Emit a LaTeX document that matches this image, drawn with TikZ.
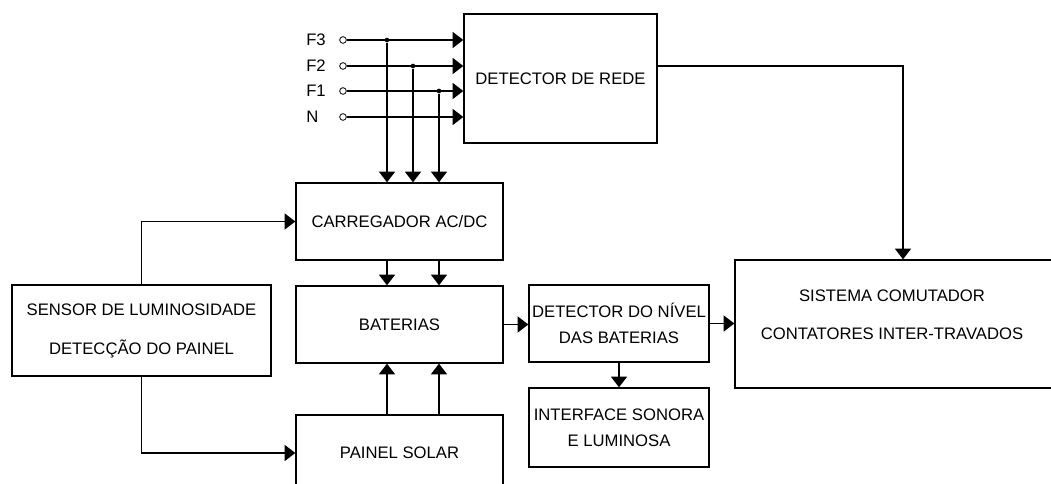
\documentclass[tikz,border=0pt]{standalone}
\usepackage{fontspec}
\setmainfont{Liberation Sans}
\usetikzlibrary{arrows.meta,positioning}

\begin{document}
\begin{tikzpicture}[x=0.75pt,y=-0.75pt,
  every node/.style={font=\fontsize{12.5}{15}\selectfont,align=center},
  bloco/.style={draw, line width=1pt, inner sep=0pt},
  seta/.style={line width=1pt, -{Triangle[length=8pt,width=12pt]}},
  borne/.style={draw, circle, line width=0.6pt, inner sep=0pt, minimum size=5pt},
  juncao/.style={fill, circle, inner sep=0pt, minimum size=3.5pt},
  duaslinhas/.style={font=\fontsize{12.5}{19.2}\selectfont}]
  \useasboundingbox (0,0) rectangle (1051,484);

  % blocos
  \node[bloco, minimum width=144.75pt, minimum height=96.75pt] (rede) at (560.5,78.5) {DETECTOR DE REDE};
  \node[bloco, minimum width=155.25pt, minimum height=57.75pt] (carr) at (399.5,221.5) {CARREGADOR AC/DC};
  \node[bloco, minimum width=155.25pt, minimum height=57.75pt] (bat) at (399.5,324.5) {BATERIAS};
  \node[bloco, minimum width=155.25pt, minimum height=57pt] (pan) at (399.5,453) {PAINEL SOLAR};
  \node[bloco, minimum width=194.25pt, minimum height=68.25pt, font=\fontsize{12.5}{29.25}\selectfont] (sens) at (141.5,330.5) {SENSOR DE LUMINOSIDADE\\DETECÇÃO DO PAINEL};
  \node[bloco, duaslinhas, minimum width=135pt, minimum height=57.75pt] (niv) at (619,323.5) {DETECTOR DO NÍVEL\\DAS BATERIAS};
  \node[bloco, duaslinhas, minimum width=135pt, minimum height=59.25pt] (intf) at (619,427.5) {INTERFACE SONORA\\E LUMINOSA};
  \node[bloco, minimum width=252pt, minimum height=96pt] (sist) at (903,324) {};
  \node[font=\fontsize{12.5}{28.5}\selectfont] (sisttxt) at (892,315) {SISTEMA COMUTADOR\\CONTATORES INTER-TRAVADOS};

  % entradas da rede
  \foreach \n/\y in {F3/40,F2/66,F1/91,N/117} {
    \node[borne] (t\n) at (343,\y) {};
    \node[anchor=west, inner sep=0pt] (l\n) at (306,\y) {\n};
    \draw[seta] (t\n) -- (t\n -| rede.west);
  }
  \foreach \n/\x/\y in {F3/387/40,F2/413/66,F1/439/91} {
    \node[juncao] (j\n) at (\x,\y) {};
    \draw[seta] (j\n) -- (j\n |- carr.north);
  }

  % ligacoes
  \foreach \n in {F3,F1} {
    \draw[seta] (j\n |- carr.south) -- (j\n |- bat.north);
    \draw[seta] (j\n |- pan.north) -- (j\n |- bat.south);
  }
  \draw[seta] (sens.north) |- (carr.west);
  \draw[seta] (sens.south) |- (pan.west);
  \draw[seta] (bat.east) -- (bat.east -| niv.west);
  \draw[seta] (niv.east) -- (niv.east -| sist.west);
  \draw[seta] (niv.south) -- (intf.north);
  \draw[seta] (rede.east |- tF2) -| (sist.north);
\end{tikzpicture}
\end{document}
